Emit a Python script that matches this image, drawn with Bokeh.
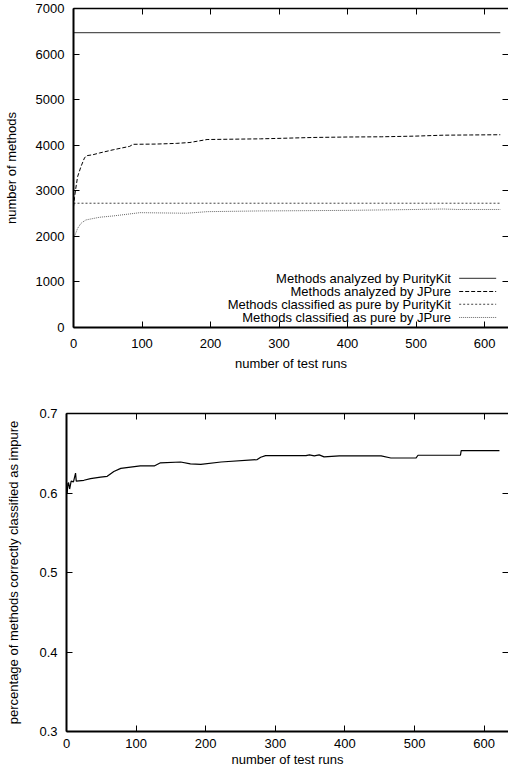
from bokeh.plotting import figure
from bokeh.models import Range1d, FixedTicker, LinearAxis, Label, Arrow, CustomJSTickFormatter
from bokeh.embed import file_html
from bokeh.resources import INLINE

FONT = "Liberation Sans"

# ---------------- data ----------------
x_ticks = [0, 100, 200, 300, 400, 500, 600]
top_y_ticks = [0, 1000, 2000, 3000, 4000, 5000, 6000, 7000]
bottom_y_ticks = [0.3, 0.4, 0.5, 0.6, 0.7]

series_names = [
    "Methods analyzed by PurityKit",
    "Methods analyzed by JPure",
    "Methods classified as pure by PurityKit",
    "Methods classified as pure by JPure",
]

runs_puritykit = [0, 623]
puritykit_analyzed = [6470, 6470]
puritykit_pure = [2727, 2727]

runs_jpure_analyzed = [0, 1.5, 3, 6, 11, 16, 19, 28, 38, 58, 82, 87, 120, 150, 170,
                       195, 273, 300, 350, 400, 450, 500, 540, 580, 623]
jpure_analyzed = [2650, 2850, 3020, 3310, 3535, 3720, 3770, 3790, 3830, 3900, 3975, 4020,
                  4025, 4040, 4060, 4125, 4140, 4150, 4170, 4180, 4185, 4200, 4220, 4225, 4230]

runs_jpure_pure = [0, 0, 1.5, 6, 11, 18, 38, 58, 82, 97, 150, 165, 195, 273, 300,
                   400, 500, 540, 560, 623]
jpure_pure = [1600, 1990, 2000, 2176, 2287, 2360, 2419, 2448, 2492, 2520, 2510, 2507,
              2542, 2558, 2560, 2570, 2590, 2600, 2590, 2590]

runs_accuracy = [1, 2, 3, 4.5, 6.7, 10, 13, 14, 25, 34.5, 49, 58.5, 68, 78, 92, 106, 126,
                 135, 164, 178, 193, 222, 274, 279, 286, 344, 349, 356, 363, 370, 392,
                 452, 466, 502, 505, 566, 567, 622]
accuracy = [0.600, 0.612, 0.613, 0.605, 0.615, 0.614, 0.625, 0.615, 0.616, 0.618, 0.620,
            0.621, 0.627, 0.631, 0.6325, 0.634, 0.634, 0.638, 0.639, 0.6366, 0.636, 0.639,
            0.642, 0.645, 0.647, 0.647, 0.648, 0.6467, 0.648, 0.6454, 0.6467, 0.6467,
            0.644, 0.644, 0.6475, 0.6475, 0.6534, 0.6534]

X_MAX = 635


def style_axis(ax, standoff, label_standoff):
    ax.axis_line_width = 2
    ax.axis_line_color = "black"
    ax.major_tick_in = 6
    ax.major_tick_out = 0
    ax.minor_tick_line_color = None
    ax.major_tick_line_color = "black"
    ax.major_label_standoff = standoff
    ax.axis_label_standoff = label_standoff
    ax.major_label_text_font = FONT
    ax.major_label_text_font_size = "13px"
    ax.major_label_text_color = "black"
    ax.axis_label_text_font = FONT
    ax.axis_label_text_font_size = "13px"
    ax.axis_label_text_font_style = "normal"
    ax.axis_label_text_color = "black"


def make_fig(height, yr, yticks, ylabel, left, top, bottom, ylabel_standoff,
             xstandoff, xlabel_standoff):
    p = figure(width=508, height=height, x_range=Range1d(0, X_MAX), y_range=yr,
               output_backend="svg", toolbar_location=None,
               min_border_left=left, min_border_right=0,
               min_border_top=top, min_border_bottom=bottom)
    p.xgrid.visible = False
    p.ygrid.visible = False
    p.outline_line_color = None
    p.background_fill_color = "white"
    p.border_fill_color = "white"

    p.xaxis.ticker = FixedTicker(ticks=x_ticks)
    p.yaxis.ticker = FixedTicker(ticks=yticks)
    p.xaxis.axis_label = "number of test runs"
    p.yaxis.axis_label = ylabel
    style_axis(p.xaxis[0], xstandoff, xlabel_standoff)
    style_axis(p.yaxis[0], 9, ylabel_standoff)

    empty = CustomJSTickFormatter(code="return ''")
    top_ax = LinearAxis(ticker=FixedTicker(ticks=x_ticks), formatter=empty)
    style_axis(top_ax, 0, 0)
    top_ax.axis_line_width = 1.5
    top_ax.major_label_text_font_size = "1px"
    p.add_layout(top_ax, "above")

    right_ax = LinearAxis(ticker=FixedTicker(ticks=yticks), formatter=empty)
    style_axis(right_ax, 0, 0)
    right_ax.axis_line_color = None
    right_ax.major_label_text_font_size = "1px"
    p.add_layout(right_ax, "right")
    return p


# ---------------- top chart ----------------
p1 = make_fig(380, Range1d(0, 7000), top_y_ticks, "number of methods",
              left=66, top=8, bottom=53, ylabel_standoff=14,
              xstandoff=11, xlabel_standoff=5)

p1.line(runs_puritykit, puritykit_analyzed, line_color="#555555", line_width=1.2)
p1.line(runs_jpure_analyzed, jpure_analyzed, line_color="black", line_width=1,
        line_dash="4 2")
p1.line(runs_puritykit, puritykit_pure, line_color="#444444", line_width=1,
        line_dash="2 2")
p1.line(runs_jpure_pure, jpure_pure, line_color="#666666", line_width=1,
        line_dash="1 1")

legend_rows = [1080, 790, 510, 220]
legend_styles = [("#555555", "solid", 1.2), ("black", "4 2", 1),
                 ("#444444", "2 2", 1), ("#666666", "1 1", 1)]
for name, yrow, (col, dash, w) in zip(series_names, legend_rows, legend_styles):
    p1.add_layout(Label(x=551, y=yrow, text=name, text_align="right",
                        text_baseline="middle", text_font=FONT,
                        text_font_size="13px", text_color="black"))
    p1.add_layout(Arrow(end=None, x_start=563, y_start=yrow, x_end=617, y_end=yrow,
                        line_color=col, line_dash=dash, line_width=w))

# ---------------- bottom chart ----------------
p2 = make_fig(391, Range1d(0.3, 0.7), bottom_y_ticks,
              "percentage of methods correctly classified as impure",
              left=66, top=33, bottom=40, ylabel_standoff=15,
              xstandoff=7, xlabel_standoff=1)
p2.line(runs_accuracy, accuracy, line_color="black", line_width=1.2)

open("out.html", "w").write(file_html([p1, p2], INLINE))
